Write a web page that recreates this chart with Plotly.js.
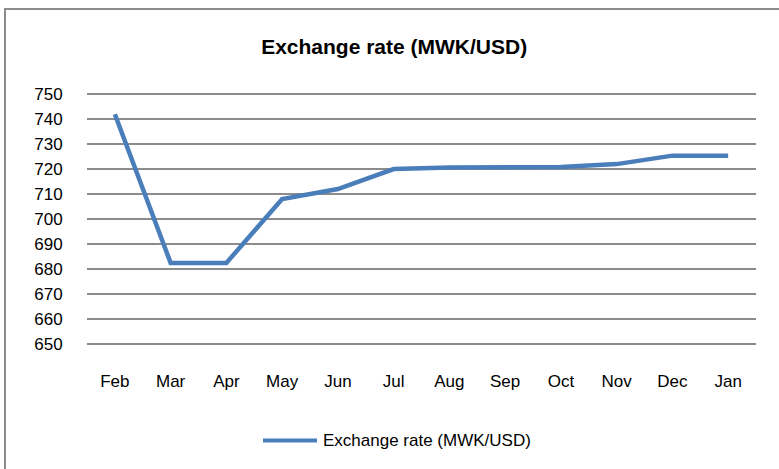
<!DOCTYPE html>
<html>
<head>
<meta charset="utf-8">
<script src="https://cdn.plot.ly/plotly-3.0.1.min.js"></script>
<style>
html,body{margin:0;padding:0;background:#fff;}
#chart{width:779px;height:469px;position:absolute;left:0;top:0;}
#frame{position:absolute;left:4px;top:8px;width:800px;height:500px;border:2.5px solid #8c8c8c;pointer-events:none;box-sizing:border-box;}
</style>
</head>
<body>
<div id="chart"></div>
<div id="frame"></div>
<script>
const months = ["Feb","Mar","Apr","May","Jun","Jul","Aug","Sep","Oct","Nov","Dec","Jan"];
const rates = [742, 682.4, 682.4, 708, 712, 720, 720.6, 720.7, 720.8, 722, 725.4, 725.4];
const seriesName = "Exchange rate (MWK/USD)";
const yTicks = [650,660,670,680,690,700,710,720,730,740,750];

const fontFam = "'Liberation Sans Narrow', 'Arial Narrow', 'Liberation Sans', Arial, sans-serif";
const lineColor = '#4a7ebb';

// plot geometry (pixels)
const L = 87, R = 23, T = 92.75, B = 123.75;
const W = 779 - L - R, H = 469 - T - B;
const px2x = p => (p - L) / W;
const py2y = p => (469 - B - p) / H;

Plotly.newPlot('chart', [{
  x: months, y: rates, type: 'scatter', mode: 'lines', name: seriesName,
  line: {color: lineColor, width: 4.5}
}], {
  width: 779, height: 469,
  margin: {l: L, r: R, t: T, b: B},
  paper_bgcolor: '#fff', plot_bgcolor: '#fff',
  font: {family: fontFam, size: 17, color: '#000'},
  title: {text: '<b>Exchange rate (MWK/USD)</b>', x: 0.506, xanchor: 'center', y: 0.9, yanchor: 'middle',
          font: {family: fontFam, size: 21, color: '#000'}},
  xaxis: {type: 'category', range: [-0.5, months.length - 0.5], showgrid: false, zeroline: false, showline: false,
          ticks: 'outside', ticklen: 21, tickcolor: 'rgba(0,0,0,0)', tickfont: {size: 17}},
  yaxis: {range: [649.5, 750.5], tickvals: yTicks, showgrid: true, gridcolor: '#8c8c8c', gridwidth: 2,
          zeroline: false, showline: false, ticks: 'outside', ticklen: 20, tickcolor: 'rgba(0,0,0,0)',
          tickfont: {size: 17}},
  showlegend: false,
  shapes: [{type: 'line', xref: 'paper', yref: 'paper',
            x0: px2x(263), x1: px2x(317), y0: py2y(441), y1: py2y(441),
            line: {color: lineColor, width: 4}}],
  annotations: [{xref: 'paper', yref: 'paper', x: px2x(321), y: py2y(441), xanchor: 'left', yanchor: 'middle',
                 showarrow: false, text: seriesName, font: {family: fontFam, size: 17, color: '#000'}}]
}, {displayModeBar: false, staticPlot: true});
</script>
</body>
</html>
